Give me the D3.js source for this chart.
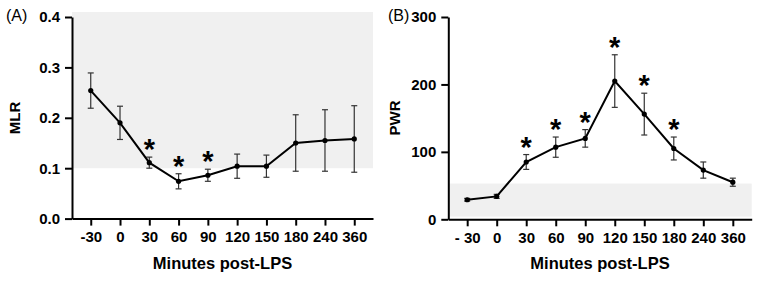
<!DOCTYPE html>
<html>
<head>
<meta charset="utf-8">
<script src="https://cdn.jsdelivr.net/npm/d3@7"></script>
<style>
  body { margin: 0; background: #fff; }
  svg { display: block; font-family: "Liberation Sans", Arial, sans-serif; }
  .axis path, .axis line { stroke: #000; stroke-width: 2; }
  .axis text { font-size: 15px; font-weight: bold; fill: #000; }
</style>
</head>
<body>
<div id="chart"></div>
<script>
// time points (minutes post-LPS)
var minutesA = ["-30", "0", "30", "60", "90", "120", "150", "180", "240", "360"];
var minutesB = ["- 30", "0", "30", "60", "90", "120", "150", "180", "240", "360"];

// panel A - MLR mean and error
var mlrMean = [0.254, 0.190, 0.111, 0.074, 0.086, 0.104, 0.104, 0.150, 0.155, 0.158];
var mlrErr  = [0.035, 0.033, 0.011, 0.015, 0.012, 0.024, 0.022, 0.056, 0.061, 0.066];
var mlrSig  = [false, false, true, true, true, false, false, false, false, false];
var mlrTicks = [0.0, 0.1, 0.2, 0.3, 0.4];
var mlrBand = [0.1, 0.41];   // shaded reference range

// panel B - PWR mean and error
var pwrMean = [29, 34, 85, 107, 120, 205, 156, 105, 73, 55];
var pwrErr  = [2, 3, 11, 15, 13, 39, 31, 17, 12, 6];
var pwrSig  = [false, false, true, true, true, true, true, true, false, false];
var pwrTicks = [0, 100, 200, 300];
var pwrBand = [4, 53];

var width = 761, height = 281;

var svg = d3.select("#chart").append("svg")
    .attr("width", width)
    .attr("height", height);

function drawPanel(opt) {
    var x = d3.scalePoint()
        .domain(opt.cats)
        .range([opt.left, opt.right])
        .padding(0.64);

    var y = d3.scaleLinear()
        .domain(opt.domain)
        .range([opt.bottom, opt.top]);

    var g = svg.append("g");

    // grey shaded range
    g.append("rect")
        .attr("x", opt.left)
        .attr("y", y(opt.band[1]))
        .attr("width", opt.right - opt.left)
        .attr("height", y(opt.band[0]) - y(opt.band[1]))
        .style("fill", "#f0f0f0");

    // axes
    g.append("g")
        .attr("class", "axis")
        .attr("transform", "translate(" + opt.left + ",0)")
        .call(d3.axisLeft(y).tickValues(opt.ticks).tickFormat(opt.fmt).tickSize(7).tickSizeOuter(0).tickPadding(5));

    g.append("g")
        .attr("class", "axis")
        .attr("transform", "translate(0," + opt.bottom + ")")
        .call(d3.axisBottom(x).tickSize(7).tickSizeOuter(0).tickPadding(6));

    // error bars
    var eb = g.selectAll(".err").data(opt.mean).enter().append("g").attr("class", "err");
    eb.append("line")
        .attr("x1", function(d, i) { return x(opt.cats[i]); })
        .attr("x2", function(d, i) { return x(opt.cats[i]); })
        .attr("y1", function(d, i) { return y(d - opt.err[i]); })
        .attr("y2", function(d, i) { return y(d + opt.err[i]); });
    eb.append("line")
        .attr("x1", function(d, i) { return x(opt.cats[i]) - 3; })
        .attr("x2", function(d, i) { return x(opt.cats[i]) + 3; })
        .attr("y1", function(d, i) { return y(d + opt.err[i]); })
        .attr("y2", function(d, i) { return y(d + opt.err[i]); });
    eb.append("line")
        .attr("x1", function(d, i) { return x(opt.cats[i]) - 3; })
        .attr("x2", function(d, i) { return x(opt.cats[i]) + 3; })
        .attr("y1", function(d, i) { return y(d - opt.err[i]); })
        .attr("y2", function(d, i) { return y(d - opt.err[i]); });
    eb.selectAll("line").style("stroke", "#333").style("stroke-width", 1.2);

    // mean line
    var line = d3.line()
        .x(function(d, i) { return x(opt.cats[i]); })
        .y(function(d) { return y(d); });
    g.append("path")
        .datum(opt.mean)
        .attr("d", line)
        .style("fill", "none")
        .style("stroke", "#000")
        .style("stroke-width", 2);

    g.selectAll(".dot").data(opt.mean).enter().append("circle")
        .attr("cx", function(d, i) { return x(opt.cats[i]); })
        .attr("cy", function(d) { return y(d); })
        .attr("r", 2.6)
        .style("fill", "#000");

    // significance stars, ~14px above the top of the error bar
    var starIdx = d3.range(opt.mean.length).filter(function(i) { return opt.sig[i]; });
    g.selectAll(".star").data(starIdx).enter().append("text")
        .attr("x", function(i) { return x(opt.cats[i]); })
        .attr("y", function(i) { return y(opt.mean[i] + opt.err[i]) + 2; })
        .attr("text-anchor", "middle")
        .style("font-size", "29px")
        .style("font-weight", "bold")
        .text("*");

    // axis titles
    g.append("text")
        .attr("x", (opt.left + opt.right) / 2)
        .attr("y", 269)
        .attr("text-anchor", "middle")
        .style("font-size", "16.5px")
        .style("font-weight", "bold")
        .text("Minutes post-LPS");

    g.append("text")
        .attr("transform", "translate(" + opt.ylabX + ",118) rotate(-90)")
        .attr("text-anchor", "middle")
        .style("font-size", "15px")
        .style("font-weight", "bold")
        .text(opt.ylab);

    g.append("text")
        .attr("x", opt.panelX)
        .attr("y", 21)
        .style("font-size", "16px")
        .text(opt.panel);
}

drawPanel({
    cats: minutesA, mean: mlrMean, err: mlrErr, sig: mlrSig,
    domain: [0, 0.4], ticks: mlrTicks, fmt: d3.format(".1f"), band: mlrBand,
    left: 72, right: 373, top: 17, bottom: 218.6,
    ylab: "MLR", ylabX: 20, panel: "(A)", panelX: 6
});

drawPanel({
    cats: minutesB, mean: pwrMean, err: pwrErr, sig: pwrSig,
    domain: [0, 300], ticks: pwrTicks, fmt: d3.format("d"), band: pwrBand,
    left: 448.3, right: 751.7, top: 17, bottom: 219.3,
    ylab: "PWR", ylabX: 400, panel: "(B)", panelX: 388
});
</script>
</body>
</html>
